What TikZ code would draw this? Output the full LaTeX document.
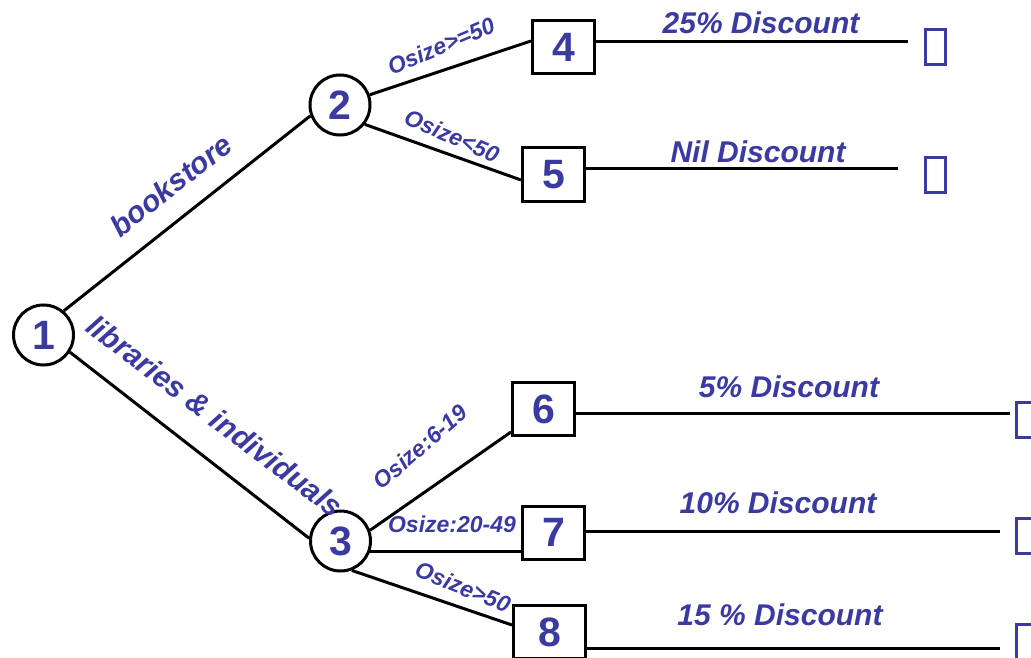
\documentclass[tikz,border=0pt]{standalone}
\usepackage{fontspec}
\setmainfont{Liberation Sans}
\definecolor{lblue}{RGB}{58,58,160}
\begin{document}
\begin{tikzpicture}[x=1pt,y=-1pt,
  every path/.style={line width=3pt},
  chance/.style={circle,draw=black,line width=3pt,minimum size=60pt,inner sep=0pt,
    text=lblue,font=\fontsize{41}{41}\selectfont\bfseries},
  decision/.style={rectangle,draw=black,line width=3pt,minimum width=62pt,minimum height=53pt,
    inner sep=0pt,text=lblue,font=\fontsize{41}{41}\selectfont\bfseries},
  outcome/.style={rectangle,draw=lblue,line width=3pt,minimum width=20pt,minimum height=35pt,inner sep=0pt},
  biglbl/.style={text=lblue,inner sep=0pt,font=\fontsize{30}{30}\selectfont\bfseries\itshape},
  smalllbl/.style={text=lblue,inner sep=0pt,font=\fontsize{23}{23}\selectfont\bfseries\itshape},
  edge/.style={draw=black,line width=3pt}]
\useasboundingbox (0,0) rectangle (1031,658);

% tree nodes
\node[chance] (n1) at (43.5,335) {1};
\node[chance] (n2) at (340,105) {2};
\node[chance] (n3) at (340.5,541) {3};
\node[decision] (n4) at (563.5,47) {4};
\node[decision] (n5) at (553.5,174.5) {5};
\node[decision] (n6) at (543.5,409) {6};
\node[decision] (n7) at (553.5,532.5) {7};
\node[decision,minimum width=72pt] (n8) at (549.5,632) {8};

% outcome markers
\node[outcome] (m4) at (935.5,47) {};
\node[outcome] (m5) at (935.5,175) {};
\node[outcome] (m6) at (1026.5,420) {};
\node[outcome] (m7) at (1026.5,535.5) {};
\node[outcome] (m8) at (1026.5,642) {};

% ends of the outcome lines
\coordinate (e4) at (908,42);
\coordinate (e5) at (898,169);
\coordinate (e6) at (1010,413);
\coordinate (e7) at (1000,531);
\coordinate (e8) at (1000,648);

% branches
\draw[edge] (n1.50) -- (n2.200);
\draw[edge] (n1.-33) -- (n3.175);
\draw[edge] (n2.19) -- ([yshift=6pt]n4.west);
\draw[edge] (n2.-38) -- ([yshift=-5.5pt]n5.west);
\draw[edge] (n3.20) -- ([yshift=-23pt]n6.west);
\draw[edge] (n3.-19) -- (n3.-19 -| n7.west);
\draw[edge] (n3.-69) -- ([yshift=7pt]n8.west);

\draw[edge] (n4.east |- e4) -- (e4);
\draw[edge] (n5.east |- e5) -- (e5);
\draw[edge] (n6.east |- e6) -- (e6);
\draw[edge] (n7.east |- e7) -- (e7);
\draw[edge] (n8.east |- e8) -- (e8);

% branch labels
\node[biglbl,rotate=38] (lb) at (171,185) {bookstore};
\node[biglbl,rotate=-37] (li) at (215,416) {libraries \& individuals};
\node[smalllbl,rotate=23] (l4) at (441,46) {Osize>=50};
\node[smalllbl,rotate=-23] (l5) at (452,136) {Osize<50};
\node[smalllbl,rotate=41] (l6) at (420,447) {Osize:6-19};
\node[smalllbl] (l7) at (452,524) {Osize:20-49};
\node[smalllbl,rotate=-22] (l8) at (463,587) {Osize>50};

% outcome labels
\node[biglbl] (d4) at (761,23) {25\% Discount};
\node[biglbl] (d5) at (758,152) {Nil Discount};
\node[biglbl] (d6) at (789,387) {5\% Discount};
\node[biglbl] (d7) at (778,503) {10\% Discount};
\node[biglbl] (d8) at (780,615) {15 \% Discount};
\end{tikzpicture}
\end{document}
